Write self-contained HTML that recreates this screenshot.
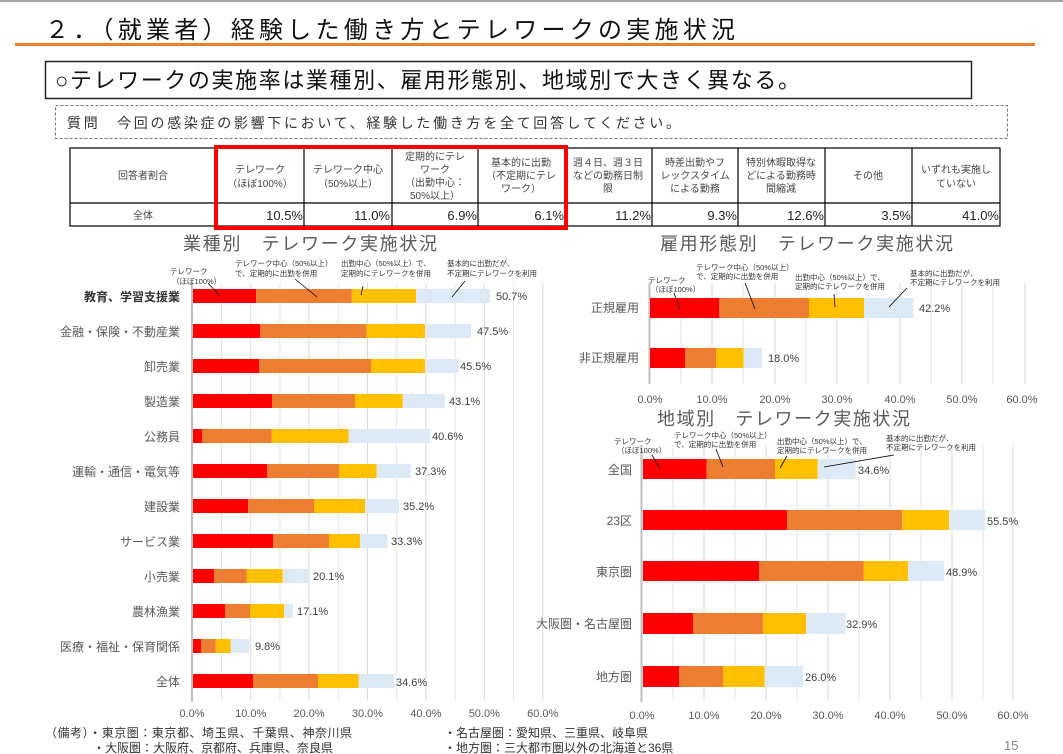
<!DOCTYPE html>
<html><head><meta charset="utf-8"><style>
body{margin:0;background:#fff;}
svg{display:block;font-family:"Liberation Sans","Noto Sans CJK JP",sans-serif;}
</style></head><body>
<svg width="1063" height="754" viewBox="0 0 1063 754" xmlns="http://www.w3.org/2000/svg">
<rect x="0" y="0" width="1063" height="2" fill="#a6a6a6"/>
<text x="45" y="38" font-size="24" fill="#111" textLength="690" lengthAdjust="spacing">２．（就業者）経験した働き方とテレワークの実施状況</text>
<rect x="15" y="43" width="1020" height="3" fill="#ed7d31"/>
<rect x="45.5" y="61.5" width="926" height="37" fill="none" stroke="#222" stroke-width="1.5"/>
<text x="55" y="88" font-size="22" fill="#111" textLength="745" lengthAdjust="spacing">○テレワークの実施率は業種別、雇用形態別、地域別で大きく異なる。</text>
<rect x="55.5" y="105.5" width="952" height="33" fill="none" stroke="#777" stroke-dasharray="3,2"/>
<text x="67" y="128" font-size="14" fill="#333" textLength="613" lengthAdjust="spacing">質問　今回の感染症の影響下において、経験した働き方を全て回答してください。</text>

<!-- table -->
<g stroke="#000" stroke-width="1.2" fill="none">
<rect x="70" y="148" width="930" height="78"/>
<line x1="70" y1="203" x2="1000" y2="203"/>
<line x1="217" y1="148" x2="217" y2="226"/><line x1="304" y1="148" x2="304" y2="226"/>
<line x1="392" y1="148" x2="392" y2="226"/><line x1="478" y1="148" x2="478" y2="226"/>
<line x1="565" y1="148" x2="565" y2="226"/><line x1="652" y1="148" x2="652" y2="226"/>
<line x1="738" y1="148" x2="738" y2="226"/><line x1="825" y1="148" x2="825" y2="226"/>
<line x1="912" y1="148" x2="912" y2="226"/>
</g>
<g font-size="10" fill="#444" text-anchor="middle">
<text x="143" y="179">回答者割合</text>
<text x="260" y="173">テレワーク</text><text x="260" y="187">（ほぼ100%）</text>
<text x="348" y="173">テレワーク中心</text><text x="348" y="187">（50%以上）</text>
<text x="435" y="160">定期的にテレ</text><text x="435" y="173">ワーク</text><text x="435" y="186">（出勤中心：</text><text x="435" y="199">50%以上）</text>
<text x="521" y="166">基本的に出勤</text><text x="521" y="179">（不定期にテレ</text><text x="521" y="192">ワーク）</text>
<text x="608" y="166">週４日、週３日</text><text x="608" y="179">などの勤務日制</text><text x="608" y="192">限</text>
<text x="695" y="166">時差出勤やフ</text><text x="695" y="179">レックスタイム</text><text x="695" y="192">による勤務</text>
<text x="781" y="166">特別休暇取得な</text><text x="781" y="179">どによる勤務時</text><text x="781" y="192">間縮減</text>
<text x="868" y="179">その他</text>
<text x="956" y="173">いずれも実施し</text><text x="956" y="187">ていない</text>
<text x="143" y="219">全体</text>
</g>
<g font-size="13" fill="#222" text-anchor="end">
<text x="303" y="220">10.5%</text><text x="390" y="220">11.0%</text><text x="477" y="220">6.9%</text>
<text x="564" y="220">6.1%</text><text x="651" y="220">11.2%</text><text x="737" y="220">9.3%</text>
<text x="824" y="220">12.6%</text><text x="911" y="220">3.5%</text><text x="999" y="220">41.0%</text>
</g>
<rect x="216" y="147" width="350" height="81" fill="none" stroke="#ff0000" stroke-width="4"/>

<!-- chart titles -->
<g font-size="18" fill="#595959">
<text x="183" y="250" textLength="254" lengthAdjust="spacing">業種別　テレワーク実施状況</text>
<text x="660" y="250" textLength="293" lengthAdjust="spacing">雇用形態別　テレワーク実施状況</text>
<text x="657" y="425" textLength="253" lengthAdjust="spacing">地域別　テレワーク実施状況</text>
</g>

<!-- LEFT CHART grid -->
<g stroke="#e3e3e3" stroke-width="1">
<line x1="221.5" y1="283" x2="221.5" y2="700"/><line x1="250.7" y1="283" x2="250.7" y2="700" stroke="#d9d9d9"/>
<line x1="279.9" y1="283" x2="279.9" y2="700"/><line x1="309.1" y1="283" x2="309.1" y2="700" stroke="#d9d9d9"/>
<line x1="338.3" y1="283" x2="338.3" y2="700"/><line x1="367.5" y1="283" x2="367.5" y2="700" stroke="#d9d9d9"/>
<line x1="396.7" y1="283" x2="396.7" y2="700"/><line x1="425.9" y1="283" x2="425.9" y2="700" stroke="#d9d9d9"/>
<line x1="455.1" y1="283" x2="455.1" y2="700"/><line x1="484.3" y1="283" x2="484.3" y2="700" stroke="#d9d9d9"/>
<line x1="513.5" y1="283" x2="513.5" y2="700"/><line x1="542.7" y1="283" x2="542.7" y2="700" stroke="#d9d9d9"/>
</g>
<line x1="192" y1="283" x2="192" y2="702" stroke="#bfbfbf" stroke-width="2"/>
<g font-size="11" fill="#595959" text-anchor="middle">
<text x="192" y="717">0.0%</text><text x="250.7" y="717">10.0%</text><text x="309.1" y="717">20.0%</text>
<text x="367.5" y="717">30.0%</text><text x="425.9" y="717">40.0%</text><text x="484.3" y="717">50.0%</text><text x="542.7" y="717">60.0%</text>
</g>
<g font-size="12" fill="#595959" text-anchor="end">
<text x="180" y="301" fill="#333" font-weight="bold">教育、学習支援業</text>
<text x="180" y="336">金融・保険・不動産業</text>
<text x="180" y="371">卸売業</text>
<text x="180" y="406">製造業</text>
<text x="180" y="441">公務員</text>
<text x="180" y="476">運輸・通信・電気等</text>
<text x="180" y="511">建設業</text>
<text x="180" y="546">サービス業</text>
<text x="180" y="581">小売業</text>
<text x="180" y="616">農林漁業</text>
<text x="180" y="651">医療・福祉・保育関係</text>
<text x="180" y="686">全体</text>
</g>
<g>
<rect x="193" y="289" width="63" height="14" fill="#ff0000"/><rect x="256" y="289" width="95.7" height="14" fill="#ed7d31"/><rect x="351.7" y="289" width="64.3" height="14" fill="#ffc000"/><rect x="416" y="289" width="74" height="14" fill="#dde9f5"/>
<rect x="193" y="324" width="67" height="14" fill="#ff0000"/><rect x="260" y="324" width="106.7" height="14" fill="#ed7d31"/><rect x="366.7" y="324" width="58.3" height="14" fill="#ffc000"/><rect x="425" y="324" width="46" height="14" fill="#dde9f5"/>
<rect x="193" y="359" width="66" height="14" fill="#ff0000"/><rect x="259" y="359" width="112" height="14" fill="#ed7d31"/><rect x="371" y="359" width="54" height="14" fill="#ffc000"/><rect x="425" y="359" width="33.7" height="14" fill="#dde9f5"/>
<rect x="193" y="394" width="79" height="14" fill="#ff0000"/><rect x="272" y="394" width="83" height="14" fill="#ed7d31"/><rect x="355" y="394" width="47.7" height="14" fill="#ffc000"/><rect x="402.7" y="394" width="42.3" height="14" fill="#dde9f5"/>
<rect x="193" y="429" width="9.3" height="14" fill="#ff0000"/><rect x="202.3" y="429" width="69.4" height="14" fill="#ed7d31"/><rect x="271.7" y="429" width="77" height="14" fill="#ffc000"/><rect x="348.7" y="429" width="81.6" height="14" fill="#dde9f5"/>
<rect x="193" y="464" width="74" height="14" fill="#ff0000"/><rect x="267" y="464" width="72" height="14" fill="#ed7d31"/><rect x="339" y="464" width="37.7" height="14" fill="#ffc000"/><rect x="376.7" y="464" width="34" height="14" fill="#dde9f5"/>
<rect x="193" y="499" width="55" height="14" fill="#ff0000"/><rect x="248" y="499" width="66" height="14" fill="#ed7d31"/><rect x="314" y="499" width="51" height="14" fill="#ffc000"/><rect x="365" y="499" width="34" height="14" fill="#dde9f5"/>
<rect x="193" y="534" width="80" height="14" fill="#ff0000"/><rect x="273" y="534" width="56" height="14" fill="#ed7d31"/><rect x="329" y="534" width="31" height="14" fill="#ffc000"/><rect x="360" y="534" width="27.3" height="14" fill="#dde9f5"/>
<rect x="193" y="569" width="21" height="14" fill="#ff0000"/><rect x="214" y="569" width="32.7" height="14" fill="#ed7d31"/><rect x="246.7" y="569" width="36" height="14" fill="#ffc000"/><rect x="282.7" y="569" width="26.6" height="14" fill="#dde9f5"/>
<rect x="193" y="604" width="32" height="14" fill="#ff0000"/><rect x="225" y="604" width="25" height="14" fill="#ed7d31"/><rect x="250" y="604" width="34" height="14" fill="#ffc000"/><rect x="284" y="604" width="9" height="14" fill="#dde9f5"/>
<rect x="193" y="639" width="8" height="14" fill="#ff0000"/><rect x="201" y="639" width="14.7" height="14" fill="#ed7d31"/><rect x="215.7" y="639" width="15" height="14" fill="#ffc000"/><rect x="230.7" y="639" width="18.6" height="14" fill="#dde9f5"/>
<rect x="193" y="674" width="60" height="14" fill="#ff0000"/><rect x="253" y="674" width="65" height="14" fill="#ed7d31"/><rect x="318" y="674" width="40.7" height="14" fill="#ffc000"/><rect x="358.7" y="674" width="35.6" height="14" fill="#dde9f5"/>
</g>
<g font-size="11" fill="#404040">
<text x="496" y="300">50.7%</text><text x="477" y="335">47.5%</text><text x="460" y="370">45.5%</text>
<text x="449" y="405">43.1%</text><text x="432" y="440">40.6%</text><text x="415" y="475">37.3%</text>
<text x="403" y="510">35.2%</text><text x="391" y="545">33.3%</text><text x="313" y="580">20.1%</text>
<text x="297" y="615">17.1%</text><text x="255" y="650">9.8%</text><text x="396" y="686">34.6%</text>
</g>
<g font-size="7.5" fill="#333">
<text x="170" y="274">テレワーク</text><text x="172" y="284">（ほぼ100%）</text>
<text x="235" y="266">テレワーク中心（50%以上）</text><text x="235" y="276">で、定期的に出勤を併用</text>
<text x="341" y="266">出勤中心（50%以上）で、</text><text x="341" y="276">定期的にテレワークを併用</text>
<text x="447" y="266">基本的に出勤だが、</text><text x="447" y="276">不定期にテレワークを利用</text>
</g>
<g stroke="#000" stroke-width="0.8">
<line x1="208" y1="283" x2="220" y2="296"/><line x1="295" y1="279" x2="317" y2="297"/>
<line x1="363" y1="286" x2="361" y2="295"/><line x1="465" y1="281" x2="452" y2="297"/>
</g>

<!-- EMPLOYMENT CHART -->
<g stroke="#e3e3e3">
<line x1="681" y1="283" x2="681" y2="384"/><line x1="712" y1="283" x2="712" y2="384" stroke="#d9d9d9"/>
<line x1="743" y1="283" x2="743" y2="384"/><line x1="775" y1="283" x2="775" y2="384" stroke="#d9d9d9"/>
<line x1="806" y1="283" x2="806" y2="384"/><line x1="837" y1="283" x2="837" y2="384" stroke="#d9d9d9"/>
<line x1="868" y1="283" x2="868" y2="384"/><line x1="900" y1="283" x2="900" y2="384" stroke="#d9d9d9"/>
<line x1="931" y1="283" x2="931" y2="384"/><line x1="962" y1="283" x2="962" y2="384" stroke="#d9d9d9"/>
<line x1="993" y1="283" x2="993" y2="384"/><line x1="1025" y1="283" x2="1025" y2="384" stroke="#d9d9d9"/>
</g>
<line x1="649.5" y1="283" x2="649.5" y2="384" stroke="#bfbfbf" stroke-width="2"/>
<g font-size="11" fill="#595959" text-anchor="middle">
<text x="650" y="403">0.0%</text><text x="712" y="403">10.0%</text><text x="775" y="403">20.0%</text>
<text x="837" y="403">30.0%</text><text x="900" y="403">40.0%</text><text x="962" y="403">50.0%</text><text x="1022" y="403">60.0%</text>
</g>
<g font-size="12" fill="#595959" text-anchor="end">
<text x="639" y="312">正規雇用</text><text x="639" y="362">非正規雇用</text>
</g>
<rect x="650" y="298" width="69.3" height="20" fill="#ff0000"/><rect x="719.3" y="298" width="89.7" height="20" fill="#ed7d31"/><rect x="809" y="298" width="55" height="20" fill="#ffc000"/><rect x="864" y="298" width="49.3" height="20" fill="#dde9f5"/>
<rect x="650" y="348" width="35" height="20" fill="#ff0000"/><rect x="685" y="348" width="31.3" height="20" fill="#ed7d31"/><rect x="716.3" y="348" width="27.4" height="20" fill="#ffc000"/><rect x="743.7" y="348" width="18.3" height="20" fill="#dde9f5"/>
<g font-size="11" fill="#404040"><text x="919" y="312">42.2%</text><text x="768" y="362">18.0%</text></g>
<g font-size="7.5" fill="#333">
<text x="648" y="283">テレワーク</text><text x="651" y="292">（ほぼ100%）</text>
<text x="696" y="270">テレワーク中心（50%以上）</text><text x="696" y="279">で、定期的に出勤を併用</text>
<text x="795" y="280">出勤中心（50%以上）で、</text><text x="795" y="289">定期的にテレワークを併用</text>
<text x="910" y="276">基本的に出勤だが、</text><text x="910" y="285">不定期にテレワークを利用</text>
</g>
<g stroke="#000" stroke-width="0.8">
<line x1="674" y1="293" x2="680" y2="310"/><line x1="745" y1="283" x2="755" y2="309"/>
<line x1="834" y1="294" x2="835" y2="307"/><line x1="907" y1="288" x2="889" y2="307"/>
</g>

<!-- REGION CHART -->
<g stroke="#e3e3e3">
<line x1="673" y1="445" x2="673" y2="700"/><line x1="704" y1="445" x2="704" y2="700" stroke="#d9d9d9"/>
<line x1="735" y1="445" x2="735" y2="700"/><line x1="766" y1="445" x2="766" y2="700" stroke="#d9d9d9"/>
<line x1="797" y1="445" x2="797" y2="700"/><line x1="828" y1="445" x2="828" y2="700" stroke="#d9d9d9"/>
<line x1="859" y1="445" x2="859" y2="700"/><line x1="890" y1="445" x2="890" y2="700" stroke="#d9d9d9"/>
<line x1="921" y1="445" x2="921" y2="700"/><line x1="952" y1="445" x2="952" y2="700" stroke="#d9d9d9"/>
<line x1="983" y1="445" x2="983" y2="700"/><line x1="1013" y1="445" x2="1013" y2="700" stroke="#d9d9d9"/>
</g>
<line x1="641.5" y1="445" x2="641.5" y2="702" stroke="#bfbfbf" stroke-width="2"/>
<g font-size="11" fill="#595959" text-anchor="middle">
<text x="642" y="719">0.0%</text><text x="704" y="719">10.0%</text><text x="766" y="719">20.0%</text>
<text x="828" y="719">30.0%</text><text x="890" y="719">40.0%</text><text x="952" y="719">50.0%</text><text x="1013" y="719">60.0%</text>
</g>
<g font-size="12" fill="#595959" text-anchor="end">
<text x="632" y="474">全国</text><text x="632" y="525">23区</text><text x="632" y="576">東京圏</text>
<text x="632" y="628">大阪圏・名古屋圏</text><text x="632" y="681">地方圏</text>
</g>
<rect x="643" y="459" width="63.7" height="20" fill="#ff0000"/><rect x="706.7" y="459" width="68.3" height="20" fill="#ed7d31"/><rect x="775" y="459" width="42.7" height="20" fill="#ffc000"/><rect x="817.7" y="459" width="38" height="20" fill="#dde9f5"/>
<rect x="643" y="510" width="144" height="20" fill="#ff0000"/><rect x="787" y="510" width="115.3" height="20" fill="#ed7d31"/><rect x="902.3" y="510" width="46.7" height="20" fill="#ffc000"/><rect x="949" y="510" width="36" height="20" fill="#dde9f5"/>
<rect x="643" y="561" width="116" height="20" fill="#ff0000"/><rect x="759" y="561" width="104.7" height="20" fill="#ed7d31"/><rect x="863.7" y="561" width="44.3" height="20" fill="#ffc000"/><rect x="908" y="561" width="36" height="20" fill="#dde9f5"/>
<rect x="643" y="613" width="50" height="21" fill="#ff0000"/><rect x="693" y="613" width="70" height="21" fill="#ed7d31"/><rect x="763" y="613" width="43" height="21" fill="#ffc000"/><rect x="806" y="613" width="39.5" height="21" fill="#dde9f5"/>
<rect x="643" y="666" width="36" height="21" fill="#ff0000"/><rect x="679" y="666" width="44" height="21" fill="#ed7d31"/><rect x="723" y="666" width="41.5" height="21" fill="#ffc000"/><rect x="764.5" y="666" width="38.5" height="21" fill="#dde9f5"/>
<g font-size="11" fill="#404040">
<text x="858" y="474">34.6%</text><text x="987" y="525">55.5%</text><text x="946" y="576">48.9%</text>
<text x="846" y="628">32.9%</text><text x="805" y="681">26.0%</text>
</g>
<g font-size="7.5" fill="#333">
<text x="614" y="444">テレワーク</text><text x="617" y="453">（ほぼ100%）</text>
<text x="674" y="438">テレワーク中心（50%以上）</text><text x="674" y="447">で、定期的に出勤を併用</text>
<text x="777" y="444">出勤中心（50%以上）で、</text><text x="777" y="453">定期的にテレワークを併用</text>
<text x="886" y="441">基本的に出勤だが、</text><text x="886" y="450">不定期にテレワークを利用</text>
</g>
<g stroke="#000" stroke-width="0.8">
<line x1="652" y1="455" x2="660" y2="469"/><line x1="716" y1="449" x2="723" y2="467"/>
<line x1="787" y1="456" x2="780" y2="468"/><line x1="894" y1="455" x2="824" y2="467"/>
</g>

<!-- footnotes -->
<g font-size="12" fill="#333">
<text x="45" y="737" textLength="307" lengthAdjust="spacing">（備考）・東京圏：東京都、埼玉県、千葉県、神奈川県</text>
<text x="93" y="752">・大阪圏：大阪府、京都府、兵庫県、奈良県</text>
<text x="444" y="737">・名古屋圏：愛知県、三重県、岐阜県</text>
<text x="444" y="752">・地方圏：三大都市圏以外の北海道と36県</text>
</g>
<text x="1004" y="750" font-size="13" fill="#888">15</text>
</svg>
</body></html>
